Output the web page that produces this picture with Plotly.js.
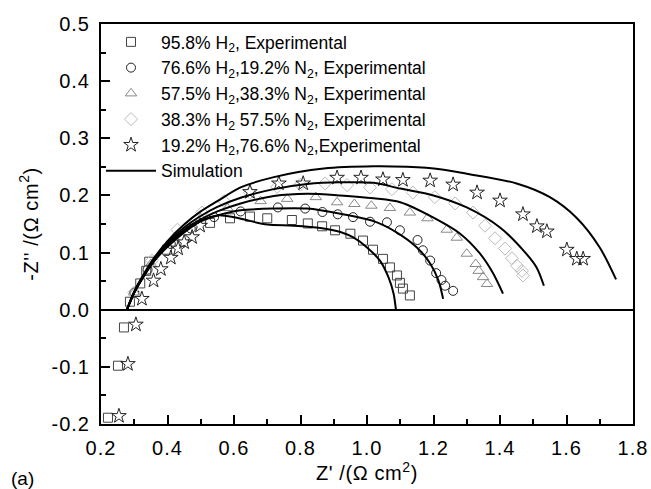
<!DOCTYPE html>
<html>
<head>
<meta charset="utf-8">
<script src="https://cdn.plot.ly/plotly-3.0.1.min.js"></script>
<style>
html,body{margin:0;padding:0;background:#fff;}
#chart{width:651px;height:489px;}
#chart .xtick text,#chart .ytick text{letter-spacing:1px;}
#chart .xtitle,#chart .ytitle{letter-spacing:0.6px;}
</style>
</head>
<body>
<div id="chart"></div>
<script>
// ---- Experimental data ----
const sqX = [0.221, 0.251, 0.269, 0.287, 0.318, 0.336, 0.345, 0.398, 0.528, 0.588, 0.648, 0.700, 0.774, 0.822, 0.865, 0.904, 0.950, 0.988, 1.018, 1.048, 1.069, 1.090, 1.099, 1.108, 1.129];
const sqY = [-0.189, -0.098, -0.031, 0.014, 0.046, 0.068, 0.084, 0.105, 0.152, 0.160, 0.163, 0.160, 0.157, 0.151, 0.146, 0.139, 0.133, 0.121, 0.105, 0.089, 0.074, 0.060, 0.047, 0.037, 0.025];

const ciX = [0.30, 0.34, 0.41, 0.47, 0.54, 0.62, 0.732, 0.814, 0.866, 0.912, 0.958, 1.009, 1.060, 1.099, 1.152, 1.168, 1.190, 1.208, 1.224, 1.235, 1.259];
const ciY = [0.03, 0.07, 0.115, 0.142, 0.162, 0.172, 0.179, 0.177, 0.171, 0.167, 0.162, 0.154, 0.153, 0.139, 0.122, 0.104, 0.086, 0.064, 0.052, 0.042, 0.033];

const trX = [0.30, 0.35, 0.42, 0.50, 0.58, 0.68, 0.76, 0.846, 0.910, 0.962, 1.013, 1.069, 1.129, 1.182, 1.240, 1.270, 1.300, 1.327, 1.336, 1.349, 1.361];
const trY = [0.03, 0.08, 0.125, 0.16, 0.178, 0.19, 0.194, 0.197, 0.188, 0.185, 0.182, 0.178, 0.170, 0.160, 0.140, 0.126, 0.098, 0.080, 0.068, 0.057, 0.045];

const diX = [0.30, 0.353, 0.43, 0.504, 0.57, 0.648, 0.73, 0.80, 0.874, 0.940, 1.009, 1.075, 1.138, 1.204, 1.265, 1.319, 1.355, 1.385, 1.415, 1.436, 1.451, 1.466, 1.469];
const diY = [0.03, 0.086, 0.14, 0.170, 0.19, 0.205, 0.215, 0.219, 0.221, 0.218, 0.214, 0.211, 0.205, 0.197, 0.186, 0.170, 0.147, 0.125, 0.107, 0.090, 0.077, 0.068, 0.060];

const stX = [0.254, 0.281, 0.305, 0.323, 0.358, 0.380, 0.410, 0.432, 0.450, 0.474, 0.498, 0.648, 0.735, 0.808, 0.910, 0.982, 1.048, 1.108, 1.190, 1.259, 1.331, 1.400, 1.469, 1.511, 1.541, 1.601, 1.631, 1.650];
const stY = [-0.186, -0.095, -0.026, 0.019, 0.051, 0.071, 0.091, 0.107, 0.118, 0.127, 0.147, 0.206, 0.221, 0.221, 0.231, 0.231, 0.228, 0.227, 0.226, 0.219, 0.205, 0.191, 0.167, 0.146, 0.137, 0.105, 0.089, 0.089];

// ---- Simulation curves ----
const simSqX = [0.278, 0.30, 0.33, 0.36, 0.40, 0.45, 0.50, 0.55, 0.60, 0.65, 0.70, 0.78, 0.86, 0.92, 0.96, 1.00, 1.04, 1.065, 1.08, 1.087];
const simSqY = [0.0, 0.03, 0.06, 0.085, 0.11, 0.135, 0.155, 0.165, 0.162, 0.155, 0.149, 0.147, 0.143, 0.136, 0.126, 0.109, 0.085, 0.056, 0.028, 0.0];

const simCiX = [0.278, 0.30, 0.33, 0.36, 0.40, 0.45, 0.50, 0.55, 0.62, 0.72, 0.82, 0.92, 1.02, 1.09, 1.15, 1.19, 1.215, 1.229];
const simCiY = [0.0, 0.03, 0.06, 0.086, 0.112, 0.137, 0.155, 0.165, 0.174, 0.177, 0.177, 0.168, 0.155, 0.135, 0.109, 0.081, 0.051, 0.019];

const simTrX = [0.278, 0.30, 0.33, 0.36, 0.40, 0.45, 0.50, 0.55, 0.62, 0.72, 0.82, 0.92, 1.02, 1.10, 1.20, 1.28, 1.34, 1.38, 1.409];
const simTrY = [0.0, 0.03, 0.061, 0.087, 0.114, 0.14, 0.158, 0.172, 0.186, 0.199, 0.203, 0.200, 0.195, 0.188, 0.161, 0.133, 0.098, 0.063, 0.028];

const simDiX = [0.278, 0.30, 0.33, 0.36, 0.40, 0.45, 0.50, 0.55, 0.62, 0.72, 0.82, 0.92, 1.02, 1.10, 1.20, 1.30, 1.40, 1.47, 1.51, 1.532];
const simDiY = [0.0, 0.031, 0.062, 0.088, 0.117, 0.144, 0.164, 0.18, 0.196, 0.211, 0.22, 0.223, 0.222, 0.212, 0.200, 0.179, 0.144, 0.104, 0.074, 0.042];

const simStX = [0.278, 0.30, 0.33, 0.36, 0.40, 0.45, 0.50, 0.55, 0.62, 0.72, 0.87, 1.02, 1.12, 1.22, 1.30, 1.45, 1.55, 1.63, 1.70, 1.749];
const simStY = [0.0, 0.032, 0.064, 0.091, 0.12, 0.149, 0.172, 0.19, 0.214, 0.232, 0.247, 0.251, 0.250, 0.246, 0.238, 0.221, 0.197, 0.161, 0.109, 0.053];

// ---- Labels ----
const seriesNames = [
  '95.8% H<sub>2</sub>, Experimental',
  '76.6% H<sub>2</sub>,19.2% N<sub>2</sub>, Experimental',
  '57.5% H<sub>2</sub>,38.3% N<sub>2</sub>, Experimental',
  '38.3% H<sub>2</sub> 57.5% N<sub>2</sub>, Experimental',
  '19.2% H<sub>2</sub>,76.6% N<sub>2</sub>,Experimental'
];
const simName = 'Simulation';
const xTickVals = [0.2, 0.4, 0.6, 0.8, 1.0, 1.2, 1.4, 1.6, 1.8];
const xTickText = ['0.2', '0.4', '0.6', '0.8', '1.0', '1.2', '1.4', '1.6', '1.8'];
const yTickVals = [-0.2, -0.1, 0.0, 0.1, 0.2, 0.3, 0.4, 0.5];
const yTickText = ['-0.2', '-0.1', '0.0', '0.1', '0.2', '0.3', '0.4', '0.5'];
const xTitle = "Z' /(Ω cm<sup>2</sup>)";
const yTitle = "-Z'' /(Ω cm<sup>2</sup>)";
const panelLabel = '(a)';

const FONT = 'Liberation Sans, Arial, sans-serif';

function mk(x, y, name, symbol, color, size) {
  return {
    x: x, y: y, name: name, type: 'scatter', mode: 'markers',
    marker: { symbol: symbol, size: size, color: color, line: { color: color, width: 1 } },
    cliponaxis: false
  };
}
function sim(x, y, show) {
  return {
    x: x, y: y, name: simName, type: 'scatter', mode: 'lines',
    line: { color: '#000', width: 2, shape: 'spline', smoothing: 0.8 },
    legendgroup: 'sim', showlegend: show
  };
}

const data = [
  mk(sqX, sqY, seriesNames[0], 'square-open', '#444', 9),
  mk(ciX, ciY, seriesNames[1], 'circle-open', '#222', 9),
  mk(trX, trY, seriesNames[2], 'triangle-up-open', '#888', 10),
  mk(diX, diY, seriesNames[3], 'diamond-open', '#bbb', 10),
  mk(stX, stY, seriesNames[4], 'star-open', '#222', 11),
  sim(simSqX, simSqY, true),
  sim(simCiX, simCiY, false),
  sim(simTrX, simTrY, false),
  sim(simDiX, simDiY, false),
  sim(simStX, simStY, false)
];

const layout = {
  width: 651, height: 489,
  margin: { l: 101, r: 18, t: 24, b: 65 },
  paper_bgcolor: '#fff', plot_bgcolor: '#fff',
  font: { family: FONT, color: '#000', size: 18 },
  showlegend: true,
  legend: {
    x: 0, y: 1, xanchor: 'left', yanchor: 'top',
    bgcolor: 'rgba(0,0,0,0)', borderwidth: 0,
    font: { family: FONT, size: 17.5, color: '#000' },
    itemwidth: 50, tracegroupgap: 0
  },
  xaxis: {
    range: [0.2, 1.8], showgrid: false, zeroline: false,
    showline: true, linecolor: '#000', linewidth: 2, mirror: true,
    tickmode: 'array', tickvals: xTickVals, ticktext: xTickText,
    ticks: 'inside', ticklen: 9, tickwidth: 2, tickcolor: '#000',
    minor: { dtick: 0.1, ticks: 'inside', ticklen: 5, tickwidth: 2, tickcolor: '#000', showgrid: false },
    tickfont: { family: FONT, size: 20 },
    ticklabelstandoff: 5,
    title: { text: xTitle, font: { family: FONT, size: 20 }, standoff: 6 },
    automargin: false
  },
  yaxis: {
    range: [-0.2, 0.5], showgrid: false,
    zeroline: true, zerolinecolor: '#000', zerolinewidth: 2,
    showline: true, linecolor: '#000', linewidth: 2, mirror: true,
    tickmode: 'array', tickvals: yTickVals, ticktext: yTickText,
    ticks: 'inside', ticklen: 9, tickwidth: 2, tickcolor: '#000',
    minor: { dtick: 0.05, ticks: 'inside', ticklen: 5, tickwidth: 2, tickcolor: '#000', showgrid: false },
    tickfont: { family: FONT, size: 20 },
    ticklabelstandoff: 5,
    title: { text: yTitle, font: { family: FONT, size: 20 }, standoff: 12 },
    automargin: false
  },
  annotations: [{
    text: panelLabel, xref: 'paper', yref: 'paper', x: -0.148, y: -0.135,
    xanchor: 'center', yanchor: 'middle', showarrow: false,
    font: { family: FONT, size: 19, color: '#000' }
  }]
};

Plotly.newPlot('chart', data, layout, { displayModeBar: false, staticPlot: true });
</script>
</body>
</html>
